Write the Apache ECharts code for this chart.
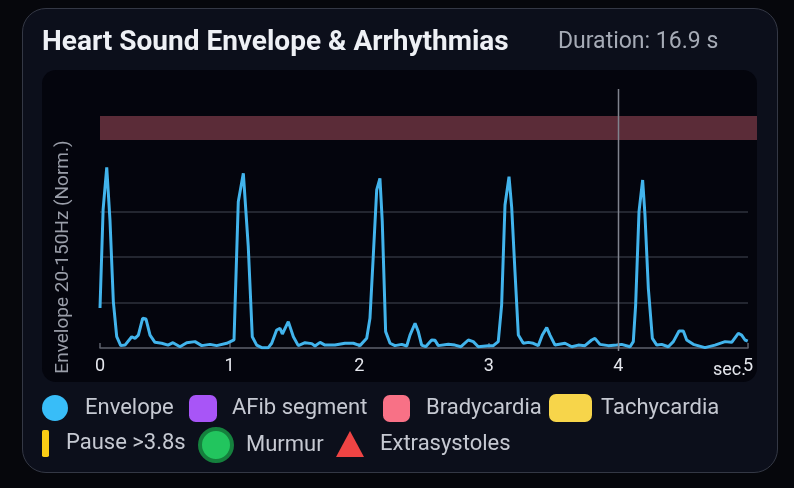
<!DOCTYPE html>
<html>
<head>
<meta charset="utf-8">
<title>Heart Sound Envelope &amp; Arrhythmias</title>
<script src="https://cdn.jsdelivr.net/npm/echarts@6/dist/echarts.min.js"></script>
<style>
html, body { margin: 0; padding: 0; background: #06070c; }
#card { position: absolute; left: 22px; top: 8px; width: 754px; height: 463px; border: 1px solid #343845; border-radius: 24px; background: #0c0f1b; }
#panel { position: absolute; left: 42px; top: 70px; width: 715px; height: 312px; border-radius: 14px; background: #04050d; }
#main { position: absolute; left: 0; top: 0; width: 794px; height: 488px; }
</style>
</head>
<body>
<div id="card"></div>
<div id="panel"></div>
<div id="main"></div>
<script>
// envelope samples [sec, normalized amplitude]
var envelope = [
  [0, 0.220], [0.024, 0.760], [0.052, 0.992], [0.077, 0.703], [0.103, 0.254], [0.129, 0.062],
  [0.160, 0.013], [0.193, 0.016], [0.245, 0.062], [0.270, 0.053], [0.296, 0.071], [0.329, 0.163],
  [0.355, 0.159], [0.386, 0.071], [0.424, 0.031], [0.476, 0.026], [0.525, 0.016], [0.563, 0.029],
  [0.617, 0.007], [0.669, 0.029], [0.733, 0.035], [0.785, 0.013], [0.849, 0.020], [0.900, 0.013],
  [0.978, 0.026], [1.034, 0.044], [1.067, 0.804], [1.106, 0.960], [1.144, 0.557], [1.175, 0.062],
  [1.209, 0.016], [1.248, 0.002], [1.299, 0.002], [1.325, 0.026], [1.363, 0.099], [1.389, 0.108],
  [1.407, 0.077], [1.453, 0.145], [1.492, 0.062], [1.530, 0.013], [1.582, 0.029], [1.634, 0.024],
  [1.659, 0.011], [1.698, 0.031], [1.736, 0.016], [1.813, 0.016], [1.890, 0.026], [1.955, 0.026],
  [2.006, 0.013], [2.058, 0.053], [2.083, 0.163], [2.109, 0.511], [2.135, 0.868], [2.160, 0.932],
  [2.178, 0.694], [2.204, 0.090], [2.238, 0.026], [2.276, 0.013], [2.328, 0.020], [2.367, 0.011],
  [2.392, 0.071], [2.431, 0.136], [2.456, 0.090], [2.482, 0.016], [2.513, 0.007], [2.559, 0.044],
  [2.585, 0.042], [2.610, 0.013], [2.688, 0.020], [2.739, 0.016], [2.785, 0.007], [2.842, 0.044],
  [2.880, 0.035], [2.919, 0.007], [2.996, 0.013], [3.035, 0.013], [3.073, 0.035], [3.099, 0.236],
  [3.125, 0.786], [3.156, 0.941], [3.177, 0.768], [3.202, 0.419], [3.228, 0.071], [3.266, 0.026],
  [3.305, 0.031], [3.343, 0.026], [3.382, 0.013], [3.413, 0.071], [3.447, 0.112], [3.472, 0.071],
  [3.511, 0.016], [3.588, 0.026], [3.640, 0.007], [3.691, 0.016], [3.742, 0.013], [3.794, 0.044],
  [3.819, 0.053], [3.858, 0.020], [3.922, 0.013], [3.987, 0.016], [4.025, 0.020], [4.090, 0.007],
  [4.115, 0.035], [4.133, 0.236], [4.159, 0.749], [4.187, 0.923], [4.205, 0.731], [4.231, 0.328],
  [4.262, 0.053], [4.296, 0.016], [4.334, 0.020], [4.385, 0.007], [4.424, 0.035], [4.468, 0.093],
  [4.501, 0.093], [4.527, 0.044], [4.578, 0.020], [4.668, 0.002], [4.745, 0.016], [4.823, 0.035],
  [4.874, 0.031], [4.925, 0.081], [4.951, 0.071], [4.977, 0.044], [4.998, 0.038]
];
// detected events (sec)
var bradycardia = [[0, 16.9]];
var afib = [];
var tachycardia = [];
var pauses = [];
var murmurs = [];
var extrasystoles = [];
var cursor = [[4]];

var PANEL_RIGHT = 757;

var myChart = echarts.init(document.getElementById('main'));

// 图例：每个条目单独一个 legend，方便控制图标大小
function legendItem(name, icon, color, left, top, w, h, gap, extra) {
    var style = { color: color, opacity: 1 };
    if (extra) { style.borderColor = extra.borderColor; style.borderWidth = extra.borderWidth; }
    return {
        left: left, top: top, padding: 0,
        itemWidth: w, itemHeight: h,
        selectedMode: false,
        textStyle: { color: '#c6c9d2', fontSize: 22, fontFamily: 'Roboto', padding: [0, 0, 0, gap - 5] },
        data: [{ name: name, icon: icon, itemStyle: style }]
    };
}

var option = {
    animation: false,
    title: [
        { text: 'Heart Sound Envelope & Arrhythmias', left: 42, top: 29, padding: 0,
          textStyle: { color: '#eef0f5', fontSize: 28, fontWeight: 'bold', fontFamily: 'Roboto' } },
        { text: 'Duration: 16.9 s', left: 558, top: 31, padding: 0,
          textStyle: { color: '#a6abb6', fontSize: 23, fontWeight: 'normal', fontFamily: 'Roboto' } }
    ],
    legend: [
        legendItem('Envelope', 'circle', '#38bdf8', 42, 395, 26, 26, 17),
        legendItem('AFib segment', 'roundRect', '#a855f7', 189, 395, 28, 27, 15),
        legendItem('Bradycardia', 'roundRect', '#f87186', 383, 395, 27, 27, 16),
        legendItem('Tachycardia', 'roundRect', '#f7d54a', 549, 394, 43, 28, 9),
        legendItem('Pause >3.8s', 'roundRect', '#facc15', 42, 430, 7, 27, 17),
        legendItem('Murmur', 'circle', '#22c55e', 198, 427, 32, 32, 14, { borderColor: '#15803d', borderWidth: 4 }),
        legendItem('Extrasystoles', 'triangle', '#ef4444', 336, 431, 28, 26, 16)
    ],
    grid: { left: 100, right: 46, top: 166, bottom: 140 },
    xAxis: {
        type: 'value', min: 0, max: 5, interval: 1, offset: 3,
        name: 'sec.', nameLocation: 'end', nameGap: -35, nameMoveOverlap: false,
        nameTextStyle: { color: '#e4e6ec', fontSize: 18, fontFamily: 'Roboto', verticalAlign: 'top', padding: [13, 0, 0, 0] },
        axisLine: { lineStyle: { color: '#5d616c', width: 1.5 } },
        axisTick: { inside: true, length: 5, lineStyle: { color: '#5d616c', width: 1.5 } },
        axisLabel: { color: '#e6e8ee', fontSize: 18, fontFamily: 'Roboto', margin: 6 },
        splitLine: { show: false }
    },
    yAxis: {
        type: 'value', min: 0, max: 1, interval: 0.25,
        name: 'Envelope 20-150Hz (Norm.)', nameLocation: 'middle', nameGap: 27,
        nameTextStyle: { color: '#9a9ea9', fontSize: 19, fontFamily: 'Roboto' },
        axisLine: { show: false },
        axisTick: { show: false },
        axisLabel: { show: false },
        splitLine: { showMinLine: false, showMaxLine: false, lineStyle: { color: '#2e323d', width: 1.5 } }
    },
    series: [
        {
            name: 'Envelope', type: 'line', data: envelope,
            showSymbol: false, symbol: 'none', z: 3,
            lineStyle: { color: '#42b4ec', width: 3 },
            itemStyle: { color: '#38bdf8' }
        },
        {
            name: 'Bradycardia', type: 'custom', data: bradycardia,
            encode: { x: [0, 1] }, clip: false, z: 1,
            itemStyle: { color: '#f87186' },
            renderItem: function (params, api) {
                var x0 = api.coord([api.value(0), 0])[0];
                var x1 = Math.min(api.coord([api.value(1), 0])[0], PANEL_RIGHT);
                return {
                    type: 'rect',
                    shape: { x: x0, y: params.coordSys.y - 50, width: x1 - x0, height: 24 },
                    style: { fill: 'rgba(248,113,134,0.36)' }
                };
            }
        },
        {
            name: 'cursor', type: 'custom', data: cursor,
            encode: { x: 0 }, clip: false, z: 4, silent: true,
            renderItem: function (params, api) {
                var x = Math.round(api.coord([api.value(0), 0])[0]) + 0.5;
                var cs = params.coordSys;
                return {
                    type: 'line',
                    shape: { x1: x, y1: cs.y - 77, x2: x, y2: cs.y + cs.height + 3 },
                    style: { stroke: '#80848e', lineWidth: 1.5 }
                };
            }
        },
        { name: 'AFib segment', type: 'scatter', data: afib, itemStyle: { opacity: 1 } },
        { name: 'Tachycardia', type: 'scatter', data: tachycardia, itemStyle: { opacity: 1 } },
        { name: 'Pause >3.8s', type: 'scatter', data: pauses, itemStyle: { opacity: 1 } },
        { name: 'Murmur', type: 'scatter', data: murmurs, itemStyle: { opacity: 1 } },
        { name: 'Extrasystoles', type: 'scatter', data: extrasystoles, itemStyle: { opacity: 1 } }
    ]
};

myChart.setOption(option);
window.addEventListener('resize', function () { myChart.resize(); });
</script>
</body>
</html>
